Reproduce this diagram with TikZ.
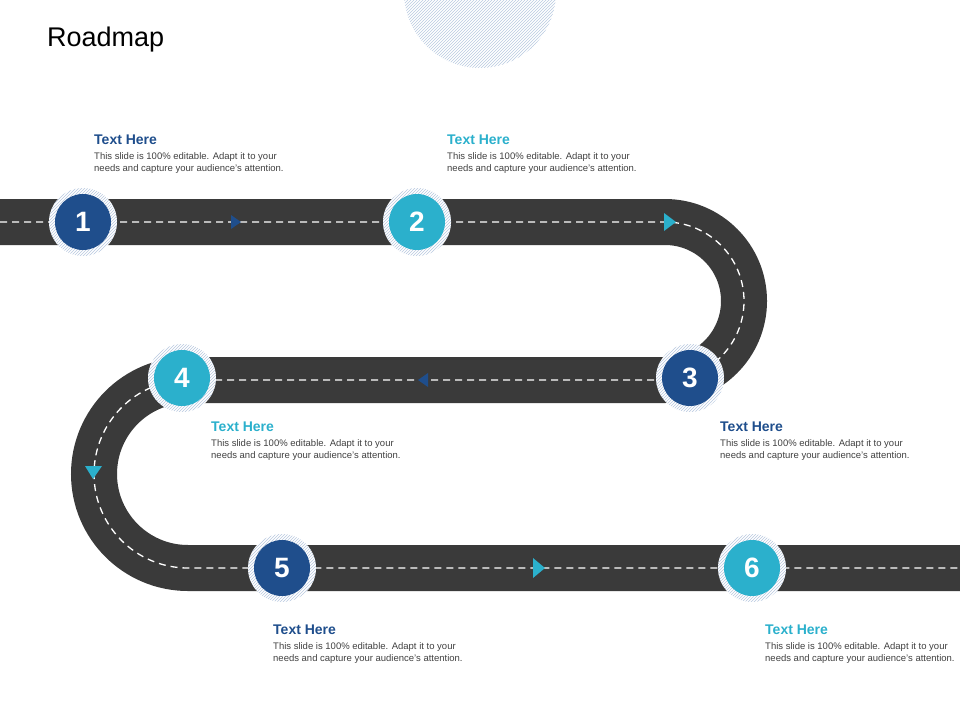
\documentclass[tikz,border=0pt]{standalone}
\usepackage{fontspec}
\setmainfont{Liberation Sans}
\usetikzlibrary{patterns}
\definecolor{dblue}{HTML}{1F4E8C}
\definecolor{cyanb}{HTML}{2BB0CC}
\definecolor{road}{HTML}{3A3A3A}
\definecolor{hatch}{HTML}{B8C9E0}
\tikzset{
  roadbed/.style={draw=road,line width=46pt},
  lane/.style={draw=white,line width=1.3pt,dash pattern=on 7pt off 5pt},
  stepcirc/.style={circle,minimum size=56pt,inner sep=0pt,text=white,font=\fontsize{28}{28}\selectfont\bfseries},
  ring/.style={circle,minimum size=68pt,inner sep=0pt,fill=white,postaction={pattern=north east lines,pattern color=hatch}},
  head/.style={anchor=north west,inner sep=0pt,font=\fontsize{14}{16}\selectfont\bfseries},
  body/.style={anchor=north west,inner sep=0pt,align=left,text=black!75,font=\fontsize{9.5}{12}\selectfont}
}
\begin{document}
\begin{tikzpicture}[x=1pt,y=-1pt]
\useasboundingbox (0,0) rectangle (960,720);
\begin{scope}
\clip (0,0) rectangle (960,720);
\fill[pattern=north east lines,pattern color=hatch] (480,-8) circle (76);
\end{scope}
\node[anchor=west,inner sep=0pt,font=\fontsize{27}{30}\selectfont] (title) at (47,40) {Roadmap};
\draw[roadbed] (0,222) -- (665,222) arc[start angle=-90,end angle=90,radius=79] -- (188,380) arc[start angle=270,end angle=90,radius=94] -- (960,568);
\draw[lane] (0,222) -- (665,222) arc[start angle=-90,end angle=90,radius=79] -- (188,380) arc[start angle=270,end angle=90,radius=94] -- (960,568);
% direction markers
\fill[dblue] (231,215) -- (241,222) -- (231,229) -- cycle;
\fill[cyanb] (664,213) -- (676,222) -- (664,231) -- cycle;
\fill[dblue] (428,373) -- (418,380) -- (428,387) -- cycle;
\fill[cyanb] (85,466) -- (102,466) -- (93,479) -- cycle;
\fill[cyanb] (533,558) -- (545,568) -- (533,578) -- cycle;
% circles
\foreach \n/\x/\y/\c in {1/83/222/dblue,2/417/222/cyanb,3/690/378/dblue,4/182/378/cyanb,5/282/568/dblue,6/752/568/cyanb}{
  \node[ring] (r\n) at (\x,\y) {};
  \node[stepcirc,fill=\c] (c\n) at (\x,\y) {\n};
}
% texts
\foreach \i/\x/\y/\c in {1/94/133/dblue,2/447/133/cyanb,3/720/420/dblue,4/211/420/cyanb,5/273/623/dblue,6/765/623/cyanb}{
  \node[head,text=\c] (h\i) at (\x,\y+2) {Text Here};
  \node[body] (b\i) at (\x,\y+19) {This slide is 100\% editable. Adapt it to your\\needs and capture your audience's attention.};
}
\end{tikzpicture}
\end{document}
